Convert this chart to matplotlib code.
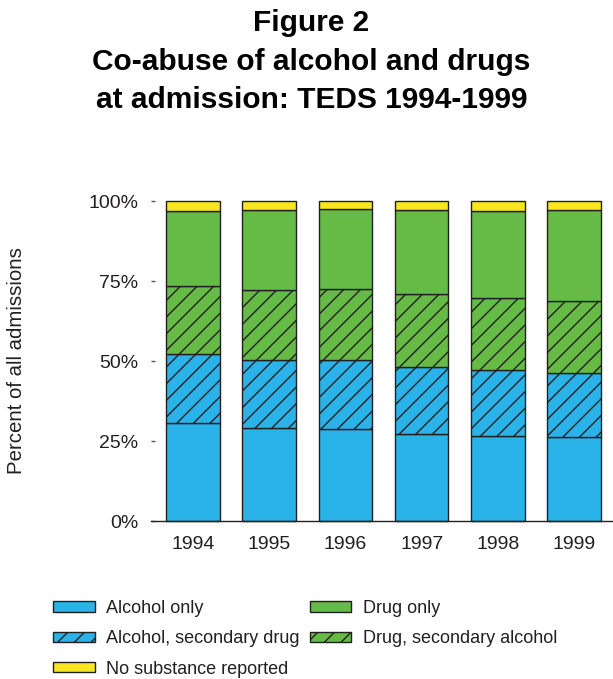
import matplotlib
matplotlib.use('Agg')
import matplotlib.pyplot as plt
from matplotlib.patches import Patch

plt.rcParams['font.family'] = ['Liberation Sans', 'DejaVu Sans']
plt.rcParams['hatch.linewidth'] = 1.0

# Datos (porcentaje de admisiones)
years = ['1994', '1995', '1996', '1997', '1998', '1999']
alcohol_only = [30.5, 29.0, 28.6, 27.1, 26.5, 26.2]
alcohol_sec_drug = [21.6, 21.2, 21.6, 21.0, 20.6, 20.0]
drug_sec_alcohol = [21.2, 22.0, 22.3, 22.7, 22.5, 22.6]
drug_only = [23.6, 24.9, 24.9, 26.4, 27.2, 28.3]
no_substance = [3.1, 2.9, 2.6, 2.8, 3.2, 2.9]

blue = '#29b3e8'
green = '#66bb47'
yellow = '#f8e620'
edge = '#231f20'
txt = '#231f20'

fig = plt.figure(figsize=(6.13, 6.79), dpi=100)
ax = fig.add_axes([151 / 613, 1 - 521 / 679, 462 / 613, 320 / 679])

series = [
    (alcohol_only, blue, None),
    (alcohol_sec_drug, blue, '//'),
    (drug_sec_alcohol, green, '//'),
    (drug_only, green, None),
    (no_substance, yellow, None),
]
x = list(range(len(years)))
bottom = [0.0] * len(years)
for vals, col, hatch in series:
    ax.bar(x, vals, bottom=bottom, width=0.7, color=col, edgecolor=edge,
           linewidth=1.0, hatch=hatch, clip_on=False, zorder=2)
    bottom = [b + v for b, v in zip(bottom, vals)]

ax.set_xlim(-0.55, 5.51)
ax.set_ylim(0, 100)
ax.set_xticks(x)
ax.set_xticklabels(years)
ax.set_yticks([0, 25, 50, 75, 100])
ax.set_yticklabels(['0%', '25%', '50%', '75%', '100%'])
ax.tick_params(axis='x', length=0, pad=11, labelsize=14, labelcolor=txt)
ax.tick_params(axis='y', direction='in', length=3, width=1, color='#555555',
               pad=9, labelsize=14, labelcolor=txt)
for s in ['left', 'right', 'top']:
    ax.spines[s].set_visible(False)
ax.spines['bottom'].set_color(edge)
ax.spines['bottom'].set_linewidth(1.0)

fig.text(17 / 613, 1 - 361 / 679, 'Percent of all admissions', rotation=90,
         ha='center', va='center', fontsize=14.7, color=txt)

# Titulo en tres lineas
title_lines = ['Figure 2', 'Co-abuse of alcohol and drugs', 'at admission: TEDS 1994-1999']
for line, yb in zip(title_lines, [31, 70, 108]):
    fig.text(311.5 / 613, 1 - yb / 679, line, ha='center', va='baseline',
             fontsize=21.5, fontweight='bold', color='black')

handles = [
    Patch(facecolor=blue, edgecolor=edge, label='Alcohol only'),
    Patch(facecolor=blue, edgecolor=edge, hatch='//', label='Alcohol, secondary drug'),
    Patch(facecolor=yellow, edgecolor=edge, label='No substance reported'),
    Patch(facecolor=green, edgecolor=edge, label='Drug only'),
    Patch(facecolor=green, edgecolor=edge, hatch='//', label='Drug, secondary alcohol'),
]
fig.legend(handles=handles, loc='upper left', bbox_to_anchor=(53 / 613, 1 - 600 / 679),
           ncol=2, frameon=False, fontsize=13, handlelength=2.3, handleheight=0.5,
           handletextpad=0.65, columnspacing=0.55, labelspacing=0.74,
           borderpad=0, borderaxespad=0, labelcolor=txt)

fig.savefig('out.png', dpi=100)
